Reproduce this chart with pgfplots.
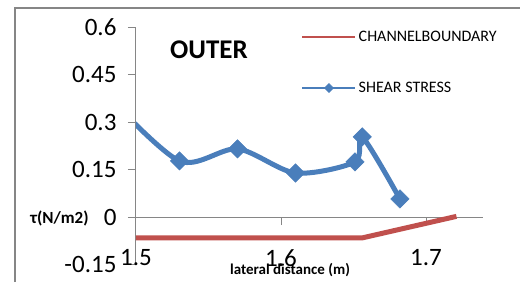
\documentclass[border=0pt]{standalone}
\usepackage{fontspec}
\setmainfont{Carlito}
\usepackage{pgfplots}
\pgfplotsset{compat=1.18}
\definecolor{sblue}{RGB}{74,126,187}
\definecolor{cred}{RGB}{192,80,77}
\definecolor{axgray}{RGB}{134,134,134}
\pgfplotsset{
  redleg/.style={legend image code/.code={\draw[##1, line width=2.5pt] (0pt,0pt) -- (53pt,0pt);}},
  blueleg/.style={legend image code/.code={\draw[sblue, line width=2.5pt] (0pt,0pt) -- (53pt,0pt); \path[##1, mark options={mark size=3.2pt, rotate=45, fill=sblue, draw=sblue, line width=0.5pt}] plot coordinates {(26.5pt,0pt)};}},
}
\begin{document}
\begin{tikzpicture}[x=1pt,y=1pt]
\path[use as bounding box] (-136,-17.5) rectangle (384,264.5);
\draw[axgray, line width=1.5pt] (-121,-17.5) -- (-121,256.5) -- (384,256.5);
\begin{axis}[at={(0,0)}, anchor=south west, scale only axis,
  width=347pt, height=237.5pt,
  xmin=1.5, xmax=1.7393, ymin=-0.15, ymax=0.6,
  axis x line=middle, axis y line=left,
  axis line style={-, draw=axgray, line width=1pt},
  hide obscured x ticks=false, hide obscured y ticks=false,
  xtick={1.5,1.6,1.7}, xticklabels={1.5,1.6,1.7},
  ytick={-0.15,0,0.15,0.3,0.45,0.6}, yticklabels={-0.15,0,0.15,0.3,0.45,0.6},
  tick align=outside, major tick length=8pt,
  tick style={axgray, line width=1pt},
  ticklabel style={font=\fontsize{25}{30}\selectfont},
  xticklabel style={yshift=-21pt},
  yticklabel style={xshift=-8pt},
  legend style={at={(0.467,1.0)}, anchor=north west, draw=none, fill=none,
    font=\fontsize{16}{19}\selectfont, row sep=35pt, legend cell align=left},
  clip mode=individual,
]
\addplot[cred, line width=5pt, redleg]
  coordinates {(1.5,-0.066) (1.656,-0.066) (1.721,0.002)};
\addlegendentry{CHANNELBOUNDARY}
\addplot[sblue, line width=5pt, smooth, forget plot]
  coordinates {(1.48,0.385) (1.530,0.177) (1.570,0.215) (1.610,0.139) (1.651,0.174) (1.656,0.253) (1.682,0.057)};
\addplot[only marks, mark=square*,
  mark options={rotate=45, mark size=6.5pt, fill=sblue, draw=sblue, line width=0.5pt},
  blueleg]
  coordinates {(1.530,0.177) (1.570,0.215) (1.610,0.139) (1.651,0.174) (1.656,0.253) (1.682,0.057)};
\addlegendentry{SHEAR STRESS}
\node[font=\bfseries\fontsize{27}{31}\selectfont] at (rel axis cs:0.2105,0.903) {OUTER};
\node[font=\bfseries\fontsize{17}{20}\selectfont, xshift=-76.5pt, yshift=-1pt] at (axis cs:1.5,0) {τ(N/m2)};
\node[font=\bfseries\fontsize{15}{18}\selectfont, xshift=154pt, yshift=-5.5pt] at (axis cs:1.5,-0.15) {lateral distance (m)};
\end{axis}
\end{tikzpicture}
\end{document}
